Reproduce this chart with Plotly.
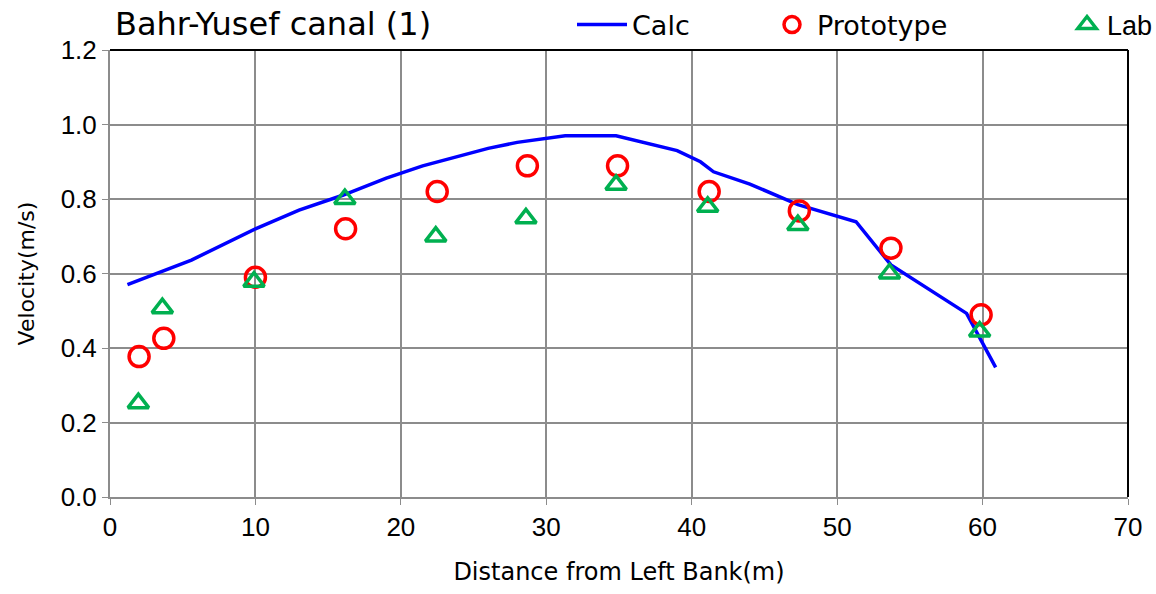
import plotly.graph_objects as go

# Data
calc_x = [1.2, 5.6, 10.0, 13.0, 16.0, 19.0, 21.5, 24.0, 26.0, 28.0, 31.3, 34.8, 39.0, 40.6, 41.5, 44.0, 47.3, 51.3, 53.7, 58.9, 60.9]
calc_y = [0.57, 0.636, 0.72, 0.77, 0.81, 0.856, 0.889, 0.915, 0.936, 0.952, 0.97, 0.97, 0.93, 0.90, 0.873, 0.84, 0.785, 0.739, 0.623, 0.493, 0.348]

proto_x = [2.0, 3.7, 10.0, 16.2, 22.5, 28.7, 34.9, 41.2, 47.4, 53.7, 59.9]
proto_y = [0.377, 0.426, 0.59, 0.72, 0.82, 0.889, 0.889, 0.82, 0.768, 0.668, 0.489]

lab_x = [1.95, 3.6, 9.9, 16.15, 22.4, 28.6, 34.8, 41.1, 47.3, 53.6, 59.8]
lab_y = [0.252, 0.507, 0.578, 0.80, 0.699, 0.748, 0.838, 0.779, 0.73, 0.60, 0.444]

x_ticks = [0, 10, 20, 30, 40, 50, 60, 70]
y_ticks = [0.0, 0.2, 0.4, 0.6, 0.8, 1.0, 1.2]

FONT = "Liberation Sans, Arial, sans-serif"
WIDE = "DejaVu Sans, sans-serif"

fig = go.Figure()
fig.add_trace(go.Scatter(x=calc_x, y=calc_y, mode="lines", name="Calc",
                         line=dict(color="#0000ff", width=3.5), legend="legend"))
fig.add_trace(go.Scatter(x=proto_x, y=proto_y, mode="markers", name="Prototype",
                         marker=dict(symbol="circle-open", size=20, color="#ff0000",
                                     line=dict(width=3.5, color="#ff0000")), legend="legend2"))
fig.add_trace(go.Scatter(x=lab_x, y=lab_y, mode="markers", name="Lab",
                         marker=dict(symbol="triangle-up-open", size=18, color="#00b050",
                                     line=dict(width=3.5, color="#00b050")), legend="legend3"))

W, H = 1156, 594
L, R, T, B = 110, 28, 50, 97
pw = W - L - R
ph = H - T - B

def cx(p):
    return p / W

def cy(p):
    return 1 - p / H

leg_common = dict(orientation="h", bgcolor="rgba(0,0,0,0)", borderwidth=0,
                  xref="container", yref="container",
                  yanchor="middle", xanchor="left", tracegroupgap=0)

fig.update_layout(
    width=W, height=H,
    margin=dict(l=L, r=R, t=T, b=B, autoexpand=False),
    paper_bgcolor="white", plot_bgcolor="white",
    font=dict(family=FONT, color="#000000"),
    showlegend=True,
    legend=dict(x=cx(572), y=cy(25), itemwidth=50,
                font=dict(family=WIDE, size=27, color="#000000"), **leg_common),
    legend2=dict(x=cx(767), y=cy(25), itemwidth=40,
                 font=dict(family=WIDE, size=27, color="#000000"), **leg_common),
    legend3=dict(x=cx(1067), y=cy(25), itemwidth=30,
                 font=dict(family=FONT, size=27, color="#000000"), **leg_common),
    xaxis=dict(range=[0, 70], tickvals=x_ticks, ticktext=[str(v) for v in x_ticks],
               showgrid=True, gridcolor="#8c8c8c", gridwidth=2,
               showline=True, linecolor="#8c8c8c", linewidth=2,
               ticks="outside", ticklen=6, tickcolor="#8c8c8c", tickwidth=1,
               tickfont=dict(family=FONT, size=26, color="#000000"),
               title=dict(text="Distance from Left Bank(m)", standoff=22,
                          font=dict(family=WIDE, size=24, color="#000000")),
               zeroline=False),
    yaxis=dict(range=[0, 1.2], tickvals=y_ticks, ticktext=[f"{v:.1f}" for v in y_ticks],
               showgrid=True, gridcolor="#8c8c8c", gridwidth=2,
               showline=True, linecolor="#8c8c8c", linewidth=2,
               ticks="outside", ticklen=6, tickcolor="#8c8c8c", tickwidth=1,
               tickfont=dict(family=FONT, size=26, color="#000000"),
               title=dict(text="Velocity(m/s)", standoff=20,
                          font=dict(family=WIDE, size=22, color="#000000")),
               zeroline=False),
    annotations=[dict(text="Bahr-Yusef canal (1)", xref="paper", yref="paper",
                      x=(113 - L) / pw, y=(H - B - 24) / ph, xanchor="left", yanchor="middle",
                      showarrow=False, font=dict(family=WIDE, size=32, color="#000000"))],
    shapes=[
        dict(type="line", xref="paper", yref="paper", x0=0, x1=1, y0=1, y1=1,
             line=dict(color="#000000", width=2)),
        dict(type="line", xref="paper", yref="paper", x0=1, x1=1, y0=0, y1=1,
             line=dict(color="#000000", width=2)),
    ],
)

fig.write_html("out.html")
